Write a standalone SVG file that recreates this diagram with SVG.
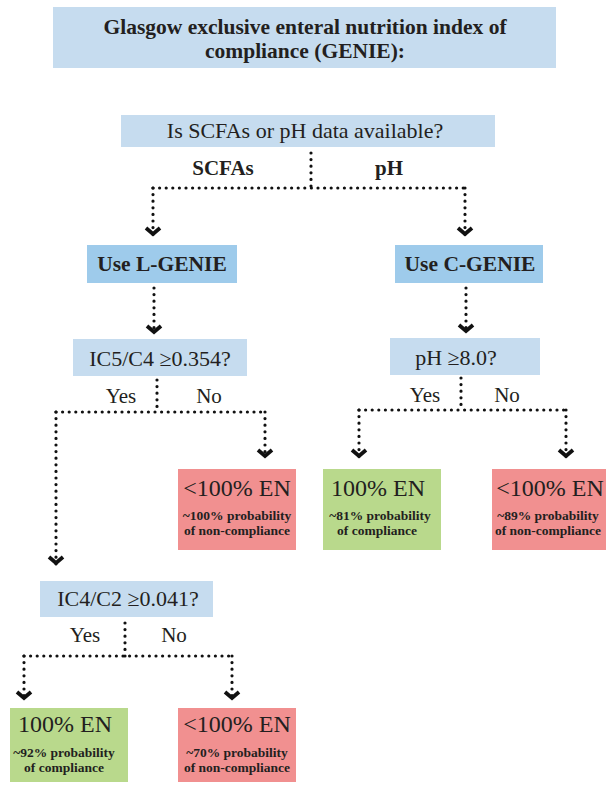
<svg xmlns="http://www.w3.org/2000/svg" width="606" height="786" viewBox="0 0 606 786">
<style>
text{font-family:'Liberation Serif','DejaVu Serif',serif;fill:#231f20;text-anchor:middle}
.t{font-size:21.5px;font-weight:bold}
.q{font-size:22px}
.lab{font-size:21px}
.labb{font-size:21px;font-weight:bold}
.use{font-size:21.5px;font-weight:bold}
.en{font-size:24px}
.sub{font-size:13.5px;font-weight:bold}
.lb{fill:#c6dcef}
.db{fill:#9ecbeb}
.rd{fill:#f19090}
.gr{fill:#b9d98c}
.d{fill:none;stroke:#111;stroke-width:3.2;stroke-linecap:round;stroke-dasharray:0 6.6}
.a{fill:none;stroke:#111;stroke-width:3.2;stroke-linecap:round;stroke-dasharray:0 6.6;marker-end:url(#chev)}
</style>
<defs>
<marker id="chev" markerUnits="userSpaceOnUse" markerWidth="20" markerHeight="20" viewBox="-10 -10 20 20" refX="2" refY="0" orient="auto">
<path d="M-5,-7 L1,0 L-5,7" fill="none" stroke="#111" stroke-width="3.8" stroke-linejoin="miter"/>
</marker>
</defs>
<rect width="606" height="786" fill="#fff"/>

<g id="title">
<rect class="lb" x="53" y="7" width="503" height="61"/>
<text class="t" x="305" y="34">Glasgow exclusive enteral nutrition index of</text>
<text class="t" x="305" y="58">compliance (GENIE):</text>
</g>

<g id="q1">
<rect class="lb" x="121" y="115" width="374" height="32"/>
<text class="q" x="305" y="138">Is SCFAs or pH data available?</text>
</g>

<g id="lgenie">
<rect class="db" x="87" y="245" width="150" height="38"/>
<text class="use" x="162" y="271">Use L-GENIE</text>
</g>

<g id="cgenie">
<rect class="db" x="395" y="245" width="148" height="38"/>
<text class="use" x="470" y="271">Use C-GENIE</text>
</g>

<g id="q2">
<rect class="lb" x="73" y="339" width="174" height="37"/>
<text class="q" x="160" y="366">IC5/C4 ≥0.354?</text>
</g>

<g id="q3">
<rect class="lb" x="390" y="338" width="150" height="37"/>
<text class="q" x="456" y="365">pH ≥8.0?</text>
</g>

<g id="r1">
<rect class="rd" x="178" y="469" width="118" height="81"/>
<text class="en" x="237" y="496">&lt;100% EN</text>
<text class="sub" x="237" y="520">~100% probability</text>
<text class="sub" x="237" y="535">of non-compliance</text>
</g>

<g id="g1">
<rect class="gr" x="323" y="469" width="118" height="81"/>
<text class="en" x="378" y="496">100% EN</text>
<text class="sub" x="380" y="520">~81% probability</text>
<text class="sub" x="377" y="535">of compliance</text>
</g>

<g id="r2">
<rect class="rd" x="492" y="469" width="114" height="81"/>
<text class="en" x="550" y="496">&lt;100% EN</text>
<text class="sub" x="548" y="520">~89% probability</text>
<text class="sub" x="548" y="535">of non-compliance</text>
</g>

<g id="q4">
<rect class="lb" x="40" y="581" width="173" height="36"/>
<text class="q" x="128" y="606">IC4/C2 ≥0.041?</text>
</g>

<g id="g2">
<rect class="gr" x="10" y="708" width="118" height="74"/>
<text class="en" x="65" y="732">100% EN</text>
<text class="sub" x="64" y="757">~92% probability</text>
<text class="sub" x="64" y="772">of compliance</text>
</g>

<g id="r3">
<rect class="rd" x="178" y="708" width="118" height="74"/>
<text class="en" x="237" y="732">&lt;100% EN</text>
<text class="sub" x="237" y="757">~70% probability</text>
<text class="sub" x="237" y="772">of non-compliance</text>
</g>

<g id="labels">
<text class="labb" x="223" y="175">SCFAs</text>
<text class="labb" x="389" y="175">pH</text>
<text class="lab" x="121" y="403">Yes</text>
<text class="lab" x="209" y="403">No</text>
<text class="lab" x="425" y="402">Yes</text>
<text class="lab" x="507" y="402">No</text>
<text class="lab" x="85" y="642">Yes</text>
<text class="lab" x="174" y="642">No</text>
</g>

<g id="connectors">
<path class="d" d="M311,153 V188"/>
<path class="d" d="M153,188 H465"/>
<path class="a" d="M153,188 V235"/>
<path class="a" d="M465,188 V235"/>
<path class="a" d="M154,288 V333"/>
<path class="a" d="M466,288 V332"/>
<path class="d" d="M157,380 V412"/>
<path class="d" d="M56,412 H265"/>
<path class="a" d="M56,412 V564"/>
<path class="a" d="M265,412 V457"/>
<path class="d" d="M461,378 V410"/>
<path class="d" d="M359,410 H566"/>
<path class="a" d="M359,410 V457"/>
<path class="a" d="M566,410 V457"/>
<path class="d" d="M125,623 V656"/>
<path class="d" d="M24,656 H232"/>
<path class="a" d="M24,656 V699"/>
<path class="a" d="M232,656 V699"/>
</g>
</svg>
